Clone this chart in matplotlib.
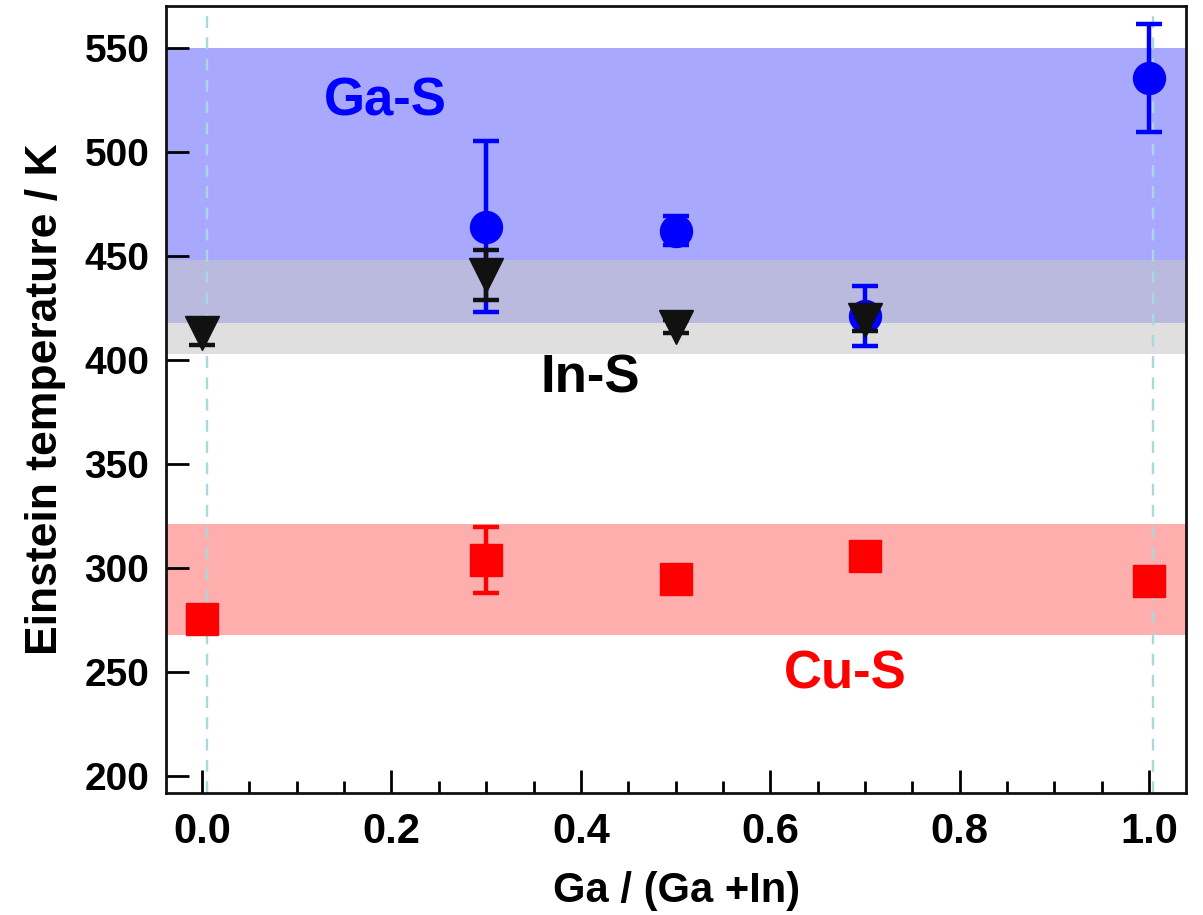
import matplotlib
matplotlib.use("Agg")
import matplotlib.pyplot as plt
from matplotlib.ticker import MultipleLocator

plt.rcParams['font.family'] = ['Liberation Sans', 'DejaVu Sans']
plt.rcParams['font.weight'] = 'bold'

# Data
x_gas = [0.3, 0.5, 0.7, 1.0]
y_gas = [464, 462, 421, 535.5]
e_gas = [41, 7, 14.5, 26]

x_ins = [0.0, 0.3, 0.5, 0.7]
y_ins = [413, 441, 416, 419]
e_ins = [6, 12, 3, 5]

x_cus = [0.0, 0.3, 0.5, 0.7, 1.0]
y_cus = [275.5, 304, 295, 306, 294]
e_cus = [2, 16, 2, 2, 2]

# Bands (lower, upper)
band_gas = (418, 550)
band_ins = (403, 448)
band_cus = (268, 321)

fig = plt.figure(figsize=(12.03, 9.15), dpi=100)
ax = fig.add_axes([0.138, 0.1333, 0.848, 0.8601])

ax.axhspan(*band_gas, color='#a8a8ff', lw=0, zorder=1)
ax.axhspan(*band_ins, color='#c9c9c9', alpha=0.575, lw=0, zorder=1.1)
ax.axhspan(*band_cus, color='#ffaeae', lw=0, zorder=1)

for xv in [0.005, 1.004]:
    ax.axvline(xv, color='#a9d9dc', lw=1.7, ls=(0, (5, 4)), zorder=1.5)

common = dict(ls='none', elinewidth=3.2, capsize=9.7, capthick=3.2)
ax.errorbar(x_cus, y_cus, yerr=e_cus, fmt='s', color='#ff0000', ms=23, zorder=3, **common)
ax.errorbar(x_gas, y_gas, yerr=e_gas, fmt='o', color='#0000ff', ms=23, zorder=3.2, **common)
ax.errorbar(x_ins, y_ins, yerr=e_ins, fmt='v', color='#111111', ms=25, zorder=3.4, **common)

ax.text(0.193, 524, 'Ga-S', color='#0000ff', fontsize=38, fontweight='bold', ha='center', va='center')
ax.text(0.41, 391, 'In-S', color='#000000', fontsize=38, fontweight='bold', ha='center', va='center')
ax.text(0.679, 249, 'Cu-S', color='#ff0000', fontsize=38, fontweight='bold', ha='center', va='center')

ax.set_xlim(-0.038, 1.039)
ax.set_ylim(192, 570)
ax.xaxis.set_minor_locator(MultipleLocator(0.05))
ax.yaxis.set_major_locator(MultipleLocator(50))
ax.set_xticks([0.0, 0.2, 0.4, 0.6, 0.8, 1.0])
ax.set_xticklabels(['0.0', '0.2', '0.4', '0.6', '0.8', '1.0'])

ax.tick_params(axis='both', which='major', direction='in', length=16.5, width=2, top=False, right=False)
ax.tick_params(axis='x', which='minor', direction='in', length=8.5, width=2, top=False)
ax.tick_params(axis='x', which='major', labelsize=30, pad=14)
ax.tick_params(axis='y', which='major', labelsize=28, pad=12)
for lab in ax.get_xticklabels() + ax.get_yticklabels():
    lab.set_fontweight('bold')

for s in ax.spines.values():
    s.set_linewidth(2)
    s.set_color('#111111')

ax.set_xlabel('Ga / (Ga +In)', fontsize=30, fontweight='bold', labelpad=13)
ax.set_ylabel('Einstein temperature / K', fontsize=32, fontweight='bold', labelpad=13)

fig.savefig('out.png', dpi=100)
